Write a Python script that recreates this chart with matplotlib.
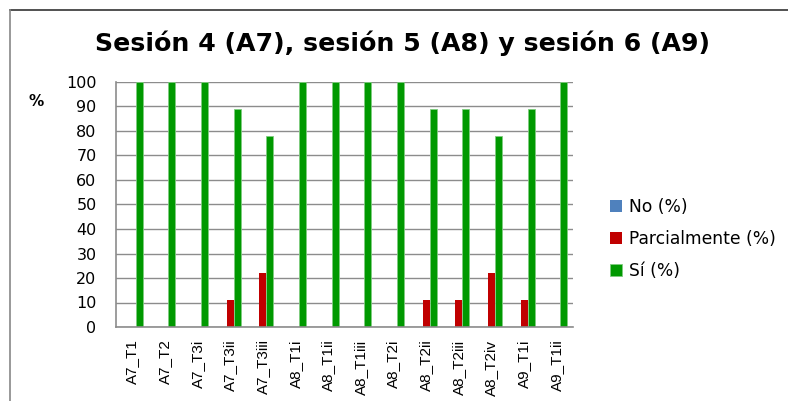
import matplotlib.pyplot as plt
import numpy as np

categories = ['A7_T1', 'A7_T2', 'A7_T3i', 'A7_T3ii', 'A7_T3iii', 'A8_T1i', 'A8_T1ii',
              'A8_T1iii', 'A8_T2i', 'A8_T2ii', 'A8_T2iii', 'A8_T2iv', 'A9_T1i', 'A9_T1ii']
no_pct = [0, 0, 0, 0, 0, 0, 0, 0, 0, 0, 0, 0, 0, 0]
parcial_pct = [0, 0, 0, 11, 22, 0, 0, 0, 0, 11, 11, 22, 11, 0]
si_pct = [100, 100, 100, 89, 78, 100, 100, 100, 100, 89, 89, 78, 89, 100]

fig = plt.figure(figsize=(7.88, 4.01), dpi=100)

# outer chart frame (cropped at right/bottom)
fig.add_artist(plt.Line2D([10/788, 1], [1 - 10/401, 1 - 10/401], color='#333333', lw=1.2))
fig.add_artist(plt.Line2D([10/788, 10/788], [0, 1 - 10/401], color='#888888', lw=1.2))

ax = fig.add_axes([116/788, 1 - 327/401, (573-116)/788, (327-82)/401])

x = np.arange(len(categories))
w = 0.215
ax.bar(x - w, no_pct, w, color='#4F81BD', label='No (%)')
ax.bar(x, parcial_pct, w, color='#C00000', label='Parcialmente (%)')
ax.bar(x + w, si_pct, w, color='#009900', edgecolor='#7FCC7F', linewidth=0.6, label='Sí (%)')

ax.set_xlim(-0.5, len(categories) - 0.5)
ax.set_ylim(0, 100)
ax.set_yticks(range(0, 101, 10))
ax.yaxis.grid(True, color='#8C8C8C', lw=1)
ax.set_axisbelow(True)
for s in ['top', 'right']:
    ax.spines[s].set_visible(False)
for s in ['left', 'bottom']:
    ax.spines[s].set_color('#8C8C8C')
    ax.spines[s].set_linewidth(1.2)
ax.tick_params(axis='both', length=0)
ax.tick_params(axis='y', labelsize=11.5, pad=14)
for t in ax.get_yticklabels():
    t.set_fontfamily('DejaVu Sans')
ax.set_xticks(x)
ax.set_xticklabels(categories, rotation=90, fontsize=11, fontfamily='Liberation Sans')
ax.tick_params(axis='x', pad=9)

fig.text(36/788, 1 - 101/401, '%', fontsize=11, fontweight='bold', fontfamily='DejaVu Sans',
         ha='center', va='center')
fig.text(403/788, 1 - 43/401, 'Sesión 4 (A7), sesión 5 (A8) y sesión 6 (A9)', fontsize=18.2,
         fontweight='bold', fontfamily='DejaVu Sans', ha='center', va='center')

leg = fig.legend(loc='upper left', bbox_to_anchor=(595/788, 1 - 183/401), frameon=False,
                 prop={'family': 'DejaVu Sans', 'size': 12.3}, handlelength=0.7, handleheight=0.7,
                 handletextpad=0.4, labelspacing=0.8)

fig.savefig('out.png', dpi=100)
